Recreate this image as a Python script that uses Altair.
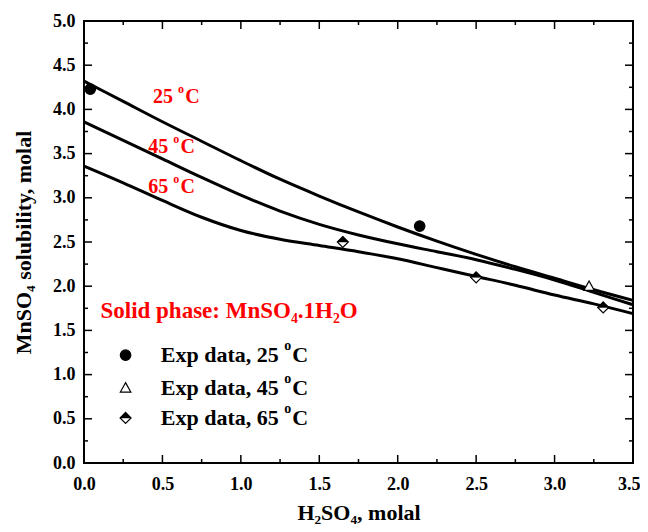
import altair as alt
import pandas as pd

# ---- data ----
curve_x = [0.0, 0.25, 0.5, 0.75, 1.0, 1.25, 1.5, 1.75, 2.0, 2.25, 2.5, 2.75, 3.0, 3.25, 3.5]
curve_25 = [4.32, 4.09, 3.86, 3.64, 3.42, 3.21, 3.02, 2.84, 2.67, 2.51, 2.36, 2.22, 2.09, 1.96, 1.84]
curve_45 = [3.86, 3.65, 3.44, 3.23, 3.03, 2.85, 2.70, 2.58, 2.48, 2.39, 2.30, 2.19, 2.07, 1.93, 1.79]
curve_65 = [3.36, 3.17, 2.97, 2.78, 2.63, 2.53, 2.46, 2.39, 2.31, 2.21, 2.11, 2.01, 1.90, 1.80, 1.69]

exp25_x = [0.04, 2.14]
exp25_y = [4.23, 2.68]
exp45_x = [3.22]
exp45_y = [2.00]
exp65_x = [1.65, 2.50, 3.31]
exp65_y = [2.50, 2.10, 1.76]

series_prefix = ["25 ", "45 ", "65 "]
legend_prefix = ["Exp data, 25 ", "Exp data, 45 ", "Exp data, 65 "]
solid_phase = "Solid phase: MnSO₄.1H₂O"

x_major = [0.0, 0.5, 1.0, 1.5, 2.0, 2.5, 3.0, 3.5]
x_minor = [0.25, 0.75, 1.25, 1.75, 2.25, 2.75, 3.25]
y_major = [0.0, 0.5, 1.0, 1.5, 2.0, 2.5, 3.0, 3.5, 4.0, 4.5, 5.0]
y_minor = [0.25, 0.75, 1.25, 1.75, 2.25, 2.75, 3.25, 3.75, 4.25, 4.75]

# ---- layout ----
W, H = 549, 442
FONT = "Liberation Serif"

xs = alt.Scale(domain=[0, 3.5], nice=False, zero=False)
ys = alt.Scale(domain=[0, 5], nice=False, zero=False)

rows = []
for name, vals in zip(["25", "45", "65"], [curve_25, curve_45, curve_65]):
    for xv, yv in zip(curve_x, vals):
        rows.append({"x": xv, "y": yv, "s": name})
curves = pd.DataFrame(rows)

x_axis = alt.Axis(values=x_major, format=".1f", title="H₂SO₄, molal", labelPadding=12,
                  titlePadding=9, labelFlush=False,
                  labelAlign={"condition": {"test": "datum.value >= 3.5", "value": "right"}, "value": "center"},
                  labelOffset={"condition": {"test": "datum.value >= 3.5", "value": 7}, "value": 0})
y_axis = alt.Axis(values=y_major, format=".1f", title="MnSO₄ solubility, molal", labelPadding=9,
                  titlePadding=17, labelFlush=False)

lines = alt.Chart(curves).mark_line(color="black", strokeWidth=3, interpolate="monotone").encode(
    x=alt.X("x:Q", scale=xs, axis=x_axis),
    y=alt.Y("y:Q", scale=ys, axis=y_axis),
    detail="s:N",
)

def ticks_x(vals, length):
    d = pd.DataFrame({"v": vals})
    b = alt.Chart(d).mark_rule(color="black", strokeWidth=1.5).encode(
        x=alt.X("v:Q", scale=xs), y=alt.value(H), y2=alt.value(H - length))
    t = alt.Chart(d).mark_rule(color="black", strokeWidth=1.5).encode(
        x=alt.X("v:Q", scale=xs), y=alt.value(0), y2=alt.value(length))
    return [b, t]

def ticks_y(vals, length):
    d = pd.DataFrame({"v": vals})
    l = alt.Chart(d).mark_rule(color="black", strokeWidth=1.5).encode(
        y=alt.Y("v:Q", scale=ys), x=alt.value(0), x2=alt.value(length))
    r = alt.Chart(d).mark_rule(color="black", strokeWidth=1.5).encode(
        y=alt.Y("v:Q", scale=ys), x=alt.value(W), x2=alt.value(W - length))
    return [l, r]

tick_layers = ticks_x(x_major, 8) + ticks_x(x_minor, 4) + ticks_y(y_major, 8) + ticks_y(y_minor, 4)

DIAMOND = "M0,-1L1,0L0,1L-1,0Z"
TOP_HALF = "M-1,0L0,-1L1,0Z"
TRIANGLE = "M0,-1L1,0.8L-1,0.8Z"

def pts(xv, yv, shape, size, fill, stroke="black", sw=1.2):
    d = pd.DataFrame({"x": xv, "y": yv})
    return alt.Chart(d).mark_point(shape=shape, size=size, filled=True, fill=fill,
                                   stroke=stroke, strokeWidth=sw, opacity=1).encode(
        x=alt.X("x:Q", scale=xs), y=alt.Y("y:Q", scale=ys))

# legend positions (data coordinates)
leg_sym_x = 0.265
leg_txt_x = 0.49
leg_y = [1.22, 0.85, 0.51]

point_layers = [
    pts(exp25_x, exp25_y, "circle", 110, "black"),
    pts(exp45_x, exp45_y, TRIANGLE, 110, "white"),
    pts(exp65_x, exp65_y, DIAMOND, 120, "white"),
    pts(exp65_x, exp65_y, TOP_HALF, 120, "black", sw=0.5),
    pts([leg_sym_x], [leg_y[0]], "circle", 110, "black"),
    pts([leg_sym_x], [leg_y[1]], TRIANGLE, 110, "white"),
    pts([leg_sym_x], [leg_y[2]], DIAMOND, 120, "white"),
    pts([leg_sym_x], [leg_y[2]], TOP_HALF, 120, "black", sw=0.5),
]

# Times-like bold advance widths (em)
WID = {"0": .5, "1": .5, "2": .5, "3": .5, "4": .5, "5": .5, "6": .5, "7": .5, "8": .5, "9": .5,
       " ": .25, "E": .667, "x": .5, "p": .556, "d": .556, "a": .5, "t": .333, ",": .25}

def text_w(s, fs):
    return sum(WID.get(c, .5) for c in s) * fs

def deg_label(xv, yv, prefix, fs, color):
    base = dict(align="left", baseline="middle", font=FONT, fontWeight="bold", color=color)
    d = pd.DataFrame({"x": [xv], "y": [yv], "t": [prefix]})
    w = text_w(prefix, fs)
    enc = dict(x=alt.X("x:Q", scale=xs), y=alt.Y("y:Q", scale=ys))
    a = alt.Chart(d).mark_text(fontSize=fs, **base).encode(text="t:N", **enc)
    o = alt.Chart(d).mark_text(fontSize=round(fs * 0.62), dx=w, dy=-fs * 0.42, text="o", **base).encode(**enc)
    c = alt.Chart(d).mark_text(fontSize=fs, dx=w + fs * 0.36, text="C", **base).encode(**enc)
    return [a, o, c]

text_layers = []
for xv, yv, p in zip([0.44, 0.41, 0.41], [4.14, 3.57, 3.12], series_prefix):
    text_layers += deg_label(xv, yv, p, 20, "#ff0000")
for yv, p in zip(leg_y, legend_prefix):
    text_layers += deg_label(leg_txt_x, yv, p, 22, "black")

solid = alt.Chart(pd.DataFrame({"x": [0.105], "y": [1.72], "t": [solid_phase]})).mark_text(
    align="left", baseline="middle", font=FONT, fontWeight="bold", fontSize=23, color="#ff0000").encode(
    x=alt.X("x:Q", scale=xs), y=alt.Y("y:Q", scale=ys), text="t:N")

chart = alt.layer(lines, *tick_layers, *point_layers, *text_layers, solid).properties(
    width=W, height=H,
    autosize=alt.AutoSizeParams(type="none"),
    padding={"left": 76, "top": 13, "right": 7, "bottom": 61},
).configure_view(stroke="black", strokeWidth=2).configure_axis(
    domain=False, ticks=False, grid=False,
    labelFont=FONT, labelFontWeight="bold", labelFontSize=18, labelColor="black",
    titleFont=FONT, titleFontWeight="bold", titleFontSize=22, titleColor="black",
)

chart.save("out.html", embed_options={"renderer": "svg", "actions": False})
